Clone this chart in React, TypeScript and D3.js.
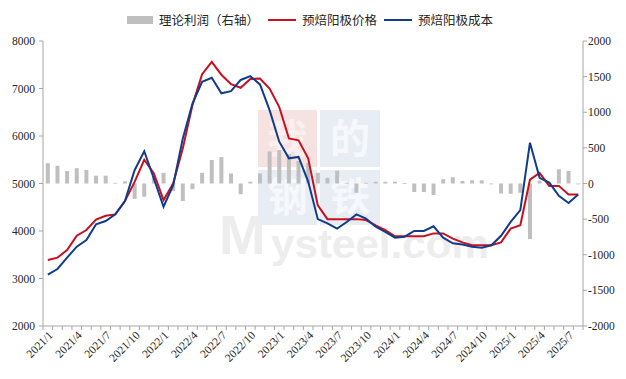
import React from 'react';
import * as d3 from 'd3';

const months: string[] = [
  '2021/1','2021/2','2021/3','2021/4','2021/5','2021/6','2021/7','2021/8','2021/9','2021/10','2021/11','2021/12',
  '2022/1','2022/2','2022/3','2022/4','2022/5','2022/6','2022/7','2022/8','2022/9','2022/10','2022/11','2022/12',
  '2023/1','2023/2','2023/3','2023/4','2023/5','2023/6','2023/7','2023/8','2023/9','2023/10','2023/11','2023/12',
  '2024/1','2024/2','2024/3','2024/4','2024/5','2024/6','2024/7','2024/8','2024/9','2024/10','2024/11','2024/12',
  '2025/1','2025/2','2025/3','2025/4','2025/5','2025/6','2025/7','2025/8',
];

// 预焙阳极价格 (left axis)
const price: number[] = [
  3390, 3440, 3600, 3900, 4020, 4240, 4320, 4350, 4630, 5035, 5500, 5210,
  4650, 5000, 5740, 6650, 7300, 7560, 7290, 7090, 7015, 7200, 7210, 7000,
  6610, 5950, 5910, 5530, 4540, 4250, 4250, 4250, 4250, 4230, 4120, 4020,
  3890, 3890, 3890, 3890, 3950, 3950, 3840, 3760, 3700, 3700, 3700, 3760,
  4050, 4120, 5080, 5225, 4950, 4950, 4770, 4770,
];

// 预焙阳极成本 (left axis)
const cost: number[] = [
  3080, 3200, 3440, 3670, 3810, 4140, 4210, 4350, 4630, 5280, 5680, 5100,
  4510, 4965, 5950, 6680, 7140, 7225, 6900, 6945, 7180, 7260, 7085, 6545,
  5880, 5530, 5560, 5040, 4250, 4160, 4050, 4190, 4350, 4260, 4090, 3980,
  3860, 3880, 4000, 4000, 4100, 3860, 3740, 3715, 3670, 3650, 3700, 3900,
  4190, 4440, 5860, 5120, 5020, 4740, 4590, 4770,
];

// 理论利润 (right axis)
const profit: number[] = [
  285, 250, 175, 215, 190, 110, 110, 10, 30, -215, -185, 100,
  150, -105, -245, -80, 150, 330, 370, 140, -150, 25, 140, 450,
  470, 410, 315, 290, 150, 80, 180, 10, -130, 10, 25, 25,
  25, 5, -120, -120, -160, 60, 88, 35, 45, 45, -8, -140,
  -145, -130, -780, 40, 10, 200, 175, 0,
];

const leftTicks: number[] = [2000, 3000, 4000, 5000, 6000, 7000, 8000];
const rightTicks: number[] = [-2000, -1500, -1000, -500, 0, 500, 1000, 1500, 2000];
const labelStep = 3;

const legendNames = ['理论利润（右轴）', '预焙阳极价格', '预焙阳极成本'];

const RED = '#c8101e';
const BLUE = '#0f3d8c';
const GRAY = '#bfbfbf';
const AXIS = '#a6a6a6';
const TXT = '#262626';
const NUM_FONT = '"Liberation Serif", "Times New Roman", serif';
const CJK_FONT = '"Noto Sans CJK SC", sans-serif';
const WM_FONT = '"Liberation Sans", Arial, sans-serif';

export default function App() {
  const W = 626, H = 379;
  const x0 = 43, x1 = 583, yTop = 41, yBot = 326;
  const idx = d3.range(months.length);
  const x = d3.scaleBand<number>().domain(idx).range([x0, x1]).padding(0);
  const bw = x.bandwidth();
  const cx = (i: number) => (x(i) as number) + bw / 2;
  const yL = d3.scaleLinear().domain([2000, 8000]).range([yBot, yTop]);
  const yR = d3.scaleLinear().domain([-2000, 2000]).range([yBot, yTop]);
  const line = d3.line<number>().x((_, i) => cx(i)).y((d) => yL(d));
  const barW = 4;

  return (
    <svg width={W} height={H} style={{ position: 'absolute', left: 0, top: 0, background: '#fff' }}>
      <rect x={0} y={0} width={W} height={H} fill="#fff" />
      {/* watermark */}
      <g>
        <rect x={258} y={110} width={59} height={57} fill="#f7e2e2" />
        <rect x={320} y={110} width={60} height={57} fill="#e8ecf3" />
        <rect x={258} y={170} width={59} height={55} fill="#e8ecf3" />
        <rect x={320} y={170} width={60} height={55} fill="#e8ecf3" />
        <text x={287.5} y={153} textAnchor="middle" fontSize={40} fontWeight="bold" fill="#fbf0f0" fontFamily={CJK_FONT}>我</text>
        <text x={350} y={153} textAnchor="middle" fontSize={40} fontWeight="bold" fill="#f6f8fb" fontFamily={CJK_FONT}>的</text>
        <text x={287.5} y={211} textAnchor="middle" fontSize={40} fontWeight="bold" fill="#f6f8fb" fontFamily={CJK_FONT}>钢</text>
        <text x={350} y={211} textAnchor="middle" fontSize={40} fontWeight="bold" fill="#f6f8fb" fontFamily={CJK_FONT}>铁</text>
        <text x={219} y={254} fontSize={56} fontWeight="bold" fill="#ededed" fontFamily={WM_FONT}>M</text>
        <text x={271} y={258} fontSize={40} fontWeight="bold" fill="#ededed" fontFamily={WM_FONT} textLength={218} lengthAdjust="spacingAndGlyphs">ysteel.com</text>
      </g>

      {/* bars */}
      <g>
        {profit.map((v, i) => {
          const y0 = yR(0);
          const y1 = yR(v);
          return (
            <rect key={i} x={cx(i) - barW / 2} width={barW} y={Math.min(y0, y1)} height={Math.max(Math.abs(y1 - y0), 0.8)} fill={GRAY} />
          );
        })}
      </g>

      {/* lines */}
      <path d={line(price) || ''} fill="none" stroke={RED} strokeWidth={2} />
      <path d={line(cost) || ''} fill="none" stroke={BLUE} strokeWidth={2} />

      {/* left axis */}
      <line x1={x0} x2={x0} y1={yTop} y2={yBot} stroke={AXIS} />
      {leftTicks.map((t) => (
        <g key={t}>
          <line x1={x0 - 4} x2={x0} y1={yL(t)} y2={yL(t)} stroke={AXIS} />
          <text x={35} y={yL(t)} dy="0.35em" textAnchor="end" fontSize={11.5} fill={TXT} fontFamily={NUM_FONT}>{t}</text>
        </g>
      ))}

      {/* right axis */}
      <line x1={x1} x2={x1} y1={yTop} y2={yBot} stroke={AXIS} />
      {rightTicks.map((t) => (
        <g key={t}>
          <line x1={x1} x2={x1 + 4} y1={yR(t)} y2={yR(t)} stroke={AXIS} />
          <text x={588} y={yR(t)} dy="0.35em" textAnchor="start" fontSize={11.5} fill={TXT} fontFamily={NUM_FONT}>{t}</text>
        </g>
      ))}

      {/* bottom axis */}
      <line x1={x0} x2={x1} y1={yBot} y2={yBot} stroke={AXIS} />
      {d3.range(months.length + 1).map((i) => {
        const xx = i < months.length ? (x(i) as number) : x1;
        return <line key={i} x1={xx} x2={xx} y1={yBot} y2={yBot + 4} stroke={AXIS} />;
      })}
      {idx.filter((i) => i % labelStep === 0).map((i) => (
        <text
          key={i}
          transform={`translate(${cx(i) + 3},${yBot + 7}) rotate(-45)`}
          dy="0.35em"
          textAnchor="end"
          fontSize={11.5}
          fill={TXT}
          fontFamily={NUM_FONT}
        >
          {months[i]}
        </text>
      ))}

      {/* legend */}
      <g>
        <rect x={127} y={16} width={26} height={8} fill={GRAY} />
        <text x={159} y={24.5} fontSize={12.5} fill={TXT} fontFamily={CJK_FONT}>{legendNames[0]}</text>
        <line x1={268} x2={296} y1={20} y2={20} stroke={RED} strokeWidth={2} />
        <text x={302} y={24.5} fontSize={12.5} fill={TXT} fontFamily={CJK_FONT}>{legendNames[1]}</text>
        <line x1={384} x2={412} y1={20} y2={20} stroke={BLUE} strokeWidth={2} />
        <text x={418} y={24.5} fontSize={12.5} fill={TXT} fontFamily={CJK_FONT}>{legendNames[2]}</text>
      </g>
    </svg>
  );
}
